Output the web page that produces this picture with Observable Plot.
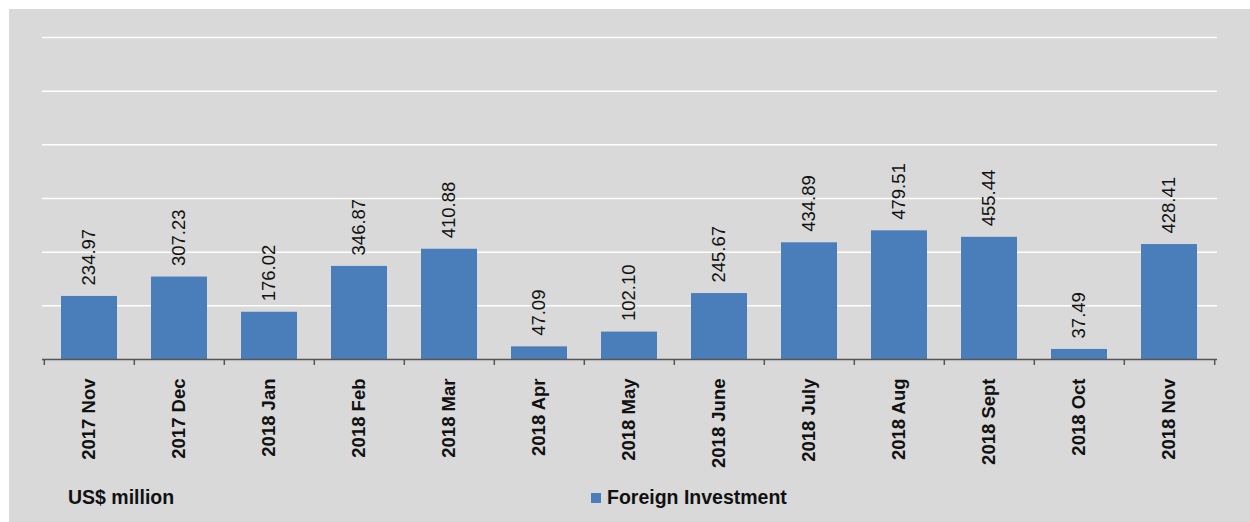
<!DOCTYPE html>
<html>
<head>
<meta charset="utf-8">
<script src="https://cdn.jsdelivr.net/npm/d3@7"></script>
<script src="https://cdn.jsdelivr.net/npm/@observablehq/plot@0.6"></script>
<style>
  html, body { margin: 0; padding: 0; background: #ffffff; }
  #wrap { position: relative; width: 1250px; height: 522px; overflow: hidden; font-family: "Liberation Sans", Arial, sans-serif; }
  #bg { position: absolute; left: 9px; top: 9px; width: 1241px; height: 513px; background: #d9d9d9; }
  #chart { position: absolute; left: 0; top: 0; }
  #chart svg { background: transparent; }
  .foot { position: absolute; top: 486px; font-weight: bold; font-size: 19.5px; color: #111; }
  #unit { left: 68px; }
  #legend { left: 591px; display: flex; align-items: center; }
  #legend .sw { width: 10px; height: 10px; background: #4a7ebb; margin-right: 6px; }
</style>
</head>
<body>
<div id="wrap">
  <div id="bg"></div>
  <div id="chart"></div>
  <div class="foot" id="unit"></div>
  <div class="foot" id="legend"><span class="sw"></span><span id="legtext"></span></div>
</div>
<script>
const categories = ["2017 Nov","2017 Dec","2018 Jan","2018 Feb","2018 Mar","2018 Apr","2018 May","2018 June","2018 July","2018 Aug","2018 Sept","2018 Oct","2018 Nov"];
const values = [234.97,307.23,176.02,346.87,410.88,47.09,102.10,245.67,434.89,479.51,455.44,37.49,428.41];
const gridTicks = [200,400,600,800,1000,1200];
const unitLabel = "US$ million";
const seriesName = "Foreign Investment";

const data = categories.map((c, i) => ({cat: c, value: values[i]}));

const W = 1250, H = 470, ML = 42, MR = 33, MT = 37, MB = 111;
const step = (W - ML - MR) / categories.length;
const barColor = "#4a7ebb";

const chart = Plot.plot({
  width: W,
  height: H,
  marginLeft: ML,
  marginRight: MR,
  marginTop: MT,
  marginBottom: MB,
  style: {background: "transparent", fontFamily: "'Liberation Sans', Arial, sans-serif", color: "#111"},
  x: {domain: categories, paddingInner: 0.376, paddingOuter: 0.188, axis: null},
  y: {domain: [0, 1200], axis: null},
  marks: [
    Plot.ruleY(gridTicks, {y: d => d, stroke: "#ffffff", strokeWidth: 1.5}),
    Plot.ruleY(gridTicks, {y: d => d, x1: 0, stroke: "#ececec", strokeWidth: 1, insetLeft: -7}),
    Plot.barY(data, {x: "cat", y: "value", fill: barColor}),
    Plot.ruleY([0], {stroke: "#555555", strokeWidth: 1.5}),
    Plot.ruleX(categories, {x: d => d, y1: 0, y2: 0, dx: -step / 2, insetBottom: -6, stroke: "#555555", strokeWidth: 1.5}),
    Plot.ruleX([categories[categories.length - 1]], {x: d => d, y1: 0, y2: 0, dx: step / 2, insetBottom: -6, stroke: "#555555", strokeWidth: 1.5}),
    Plot.text(data, {x: "cat", y: "value", text: d => d.value.toFixed(2), rotate: -90, textAnchor: "start", dy: -11, fontSize: 18.5, fill: "#111"}),
    Plot.text(data, {x: "cat", y: 0, text: "cat", rotate: -90, textAnchor: "end", dy: 19, fontSize: 18.5, fontWeight: "bold", fill: "#111"})
  ]
});
document.getElementById("chart").appendChild(chart);
document.getElementById("unit").textContent = unitLabel;
document.getElementById("legtext").textContent = seriesName;
</script>
</body>
</html>
